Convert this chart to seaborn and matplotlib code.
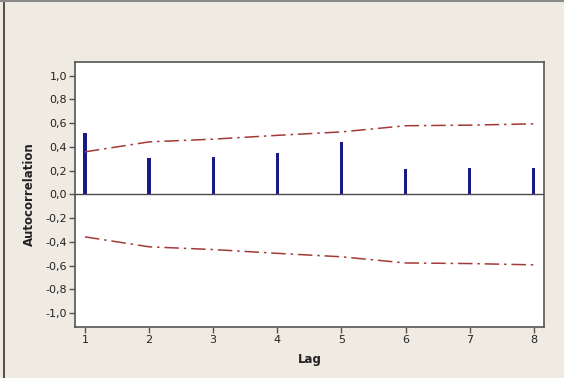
import matplotlib
matplotlib.use("Agg")
import matplotlib.pyplot as plt
from matplotlib.lines import Line2D
from matplotlib.ticker import FuncFormatter, FixedLocator
import numpy as np
import pandas as pd
import seaborn as sns

# Sample autocorrelation function by lag, with 5% significance limits
lags = [1, 2, 3, 4, 5, 6, 7, 8]
acf = [0.513, 0.303, 0.317, 0.345, 0.443, 0.210, 0.219, 0.219]
upper_limit = [0.358, 0.442, 0.465, 0.497, 0.526, 0.578, 0.583, 0.594]
lower_limit = [-v for v in upper_limit]
y_ticks = [-1.0, -0.8, -0.6, -0.4, -0.2, 0.0, 0.2, 0.4, 0.6, 0.8, 1.0]

sns.set_theme(style="white")
plt.rcParams["font.family"] = ["DejaVu Sans"]

bg = "#f0ebe2"
fig = plt.figure(figsize=(5.64, 3.78), dpi=100, facecolor=bg)
ax = fig.add_axes([0.1335, 0.1357, 0.831, 0.7003])
ax.set_facecolor("white")

df = pd.DataFrame({"Lag": lags, "ACF": acf, "UCL": upper_limit, "LCL": lower_limit})

sns.barplot(data=df, x="Lag", y="ACF", native_scale=True, width=0.05,
            color="#1a1a86", saturation=1, edgecolor="#1a1a86", linewidth=0, ax=ax)

dash = (0, (9.5, 3.2, 1.6, 3.2))
sns.lineplot(data=df, x="Lag", y="UCL", color="#a23a36", linewidth=1.1,
             linestyle=dash, ax=ax)
sns.lineplot(data=df, x="Lag", y="LCL", color="#a23a36", linewidth=1.1,
             linestyle=dash, ax=ax)

ax.axhline(0, color="#4a4a4a", linewidth=1.0, zorder=1)

ax.set_xlim(0.849, 8.16)
ax.set_ylim(-1.115, 1.115)
ax.xaxis.set_major_locator(FixedLocator(lags))
ax.yaxis.set_major_locator(FixedLocator(y_ticks))
ax.yaxis.set_major_formatter(FuncFormatter(lambda v, p: f"{v:.1f}".replace(".", ",").replace("-0,0", "0,0")))

for s in ax.spines.values():
    s.set_color("#555555")
    s.set_linewidth(1.2)

ax.tick_params(axis="both", which="major", direction="out", length=4, width=1,
               color="#555555", labelsize=8, labelcolor="#222222", pad=2,
               left=True, bottom=True)

ax.set_xlabel("Lag", fontsize=8.5, fontweight="bold", color="#222222", labelpad=6)
ax.set_ylabel("Autocorrelation", fontsize=8.5, fontweight="bold", color="#222222", labelpad=7)

# Window frame edges
fig.add_artist(Line2D([4 / 564, 4 / 564], [0, 1], transform=fig.transFigure,
                      color="#333333", linewidth=1.2))
fig.add_artist(Line2D([0, 1], [1 - 1 / 378, 1 - 1 / 378], transform=fig.transFigure,
                      color="#8a8a8a", linewidth=1.5))

fig.savefig("out.png", dpi=100, facecolor=bg)
